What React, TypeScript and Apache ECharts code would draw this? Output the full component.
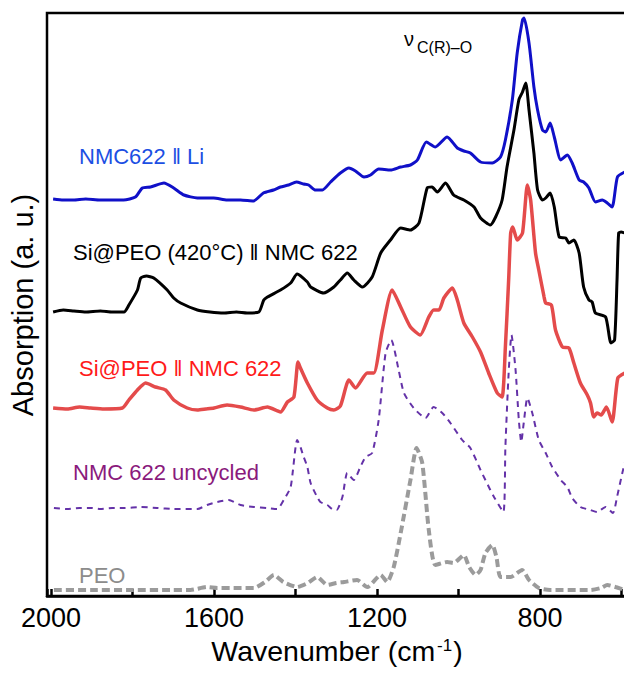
import React, { useEffect, useRef } from 'react';
import * as echarts from 'echarts';

// Tick labels on the wavenumber axis (cm^-1)
const xLabelValues = [800, 1200, 1600, 2000];

// [wavenumber (cm^-1), absorption (a.u., stacked offset)]
const nmcLi: [number, number][] = [
  [1995, 397], [1970, 396], [1945, 396], [1915, 397], [1880, 396], [1850, 396], [1822, 396], [1793, 399],
  [1776, 408], [1756, 409], [1723, 413], [1699, 408], [1674, 401], [1641, 398], [1601, 398], [1568, 396],
  [1535, 396], [1503, 395], [1479, 403], [1454, 406], [1437, 409], [1417, 411], [1398, 414], [1380, 412],
  [1368, 411], [1351, 406], [1334, 406], [1314, 414], [1290, 423], [1269, 428], [1253, 425], [1232, 419],
  [1216, 421], [1196, 427], [1167, 426], [1142, 429], [1118, 431], [1101, 436], [1079, 454], [1057, 449],
  [1028, 459], [1003, 448], [987, 445], [971, 443], [946, 434], [917, 433], [897, 439], [885, 456],
  [868, 496], [856, 543], [843, 576], [839, 578], [827, 553], [815, 509], [806, 486], [794, 466],
  [786, 464], [775, 473], [765, 459], [749, 436], [733, 441], [721, 433], [704, 416], [693, 414],
  [680, 408], [664, 394], [647, 396], [635, 393], [623, 389], [610, 419], [592, 424],
];

const siPeo420: [number, number][] = [
  [1995, 284], [1970, 286], [1944, 285], [1915, 284], [1879, 285], [1850, 284], [1821, 284], [1809, 291],
  [1788, 306], [1780, 318], [1766, 320], [1748, 318], [1715, 306], [1699, 298], [1682, 293], [1641, 286],
  [1610, 284], [1576, 283], [1545, 284], [1519, 283], [1490, 284], [1478, 296], [1469, 299], [1437, 306],
  [1412, 313], [1396, 322], [1371, 314], [1363, 309], [1331, 303], [1306, 309], [1290, 316], [1273, 323],
  [1257, 316], [1236, 309], [1212, 319], [1191, 343], [1167, 356], [1142, 368], [1118, 366], [1097, 373],
  [1077, 408], [1065, 409], [1052, 404], [1032, 413], [1012, 401], [987, 396], [962, 389], [946, 378],
  [922, 371], [909, 379], [893, 396], [881, 429], [864, 466], [852, 496], [843, 504], [835, 513],
  [827, 486], [815, 443], [806, 406], [794, 396], [786, 398], [775, 403], [765, 389], [753, 359],
  [737, 358], [729, 353], [717, 356], [704, 343], [693, 309], [680, 296], [672, 294], [664, 283],
  [639, 279], [626, 253], [617, 256], [611, 316], [607, 363], [601, 364], [592, 363],
];

const siPeo: [number, number][] = [
  [1995, 188], [1960, 187], [1930, 189], [1903, 188], [1870, 187], [1825, 188], [1809, 196], [1788, 206],
  [1768, 213], [1744, 209], [1719, 206], [1699, 196], [1666, 188], [1641, 186], [1620, 187], [1600, 188],
  [1568, 191], [1535, 189], [1502, 186], [1469, 189], [1437, 184], [1420, 194], [1404, 199], [1394, 234],
  [1388, 228], [1371, 213], [1347, 196], [1322, 188], [1306, 186], [1290, 190], [1269, 216], [1253, 208],
  [1224, 223], [1208, 223], [1187, 266], [1163, 306], [1142, 289], [1118, 269], [1094, 261], [1073, 279],
  [1061, 286], [1048, 286], [1036, 298], [1015, 308], [1003, 296], [987, 273], [966, 259], [946, 244],
  [926, 223], [905, 203], [893, 199], [885, 249], [877, 316], [872, 363], [867, 369], [856, 356],
  [843, 363], [831, 411], [823, 396], [811, 343], [803, 326], [790, 299], [786, 293], [772, 291],
  [762, 266], [745, 249], [729, 248], [717, 233], [701, 213], [684, 201], [676, 193], [668, 179],
  [660, 183], [650, 181], [637, 189], [623, 174], [609, 218], [592, 223],
];

const nmcUncycled: [number, number][] = [
  [1993, 88], [1960, 87], [1930, 88], [1900, 88], [1879, 87], [1850, 88], [1820, 88], [1780, 89],
  [1740, 88], [1699, 87], [1641, 87], [1617, 91], [1592, 94], [1564, 96], [1535, 91], [1502, 89],
  [1470, 88], [1445, 87], [1429, 96], [1412, 109], [1396, 156], [1388, 149], [1380, 139], [1371, 129],
  [1363, 113], [1347, 99], [1339, 94], [1322, 91], [1306, 86], [1299, 86], [1285, 99], [1273, 123],
  [1257, 116], [1241, 129], [1228, 139], [1212, 143], [1196, 176], [1179, 243], [1165, 256], [1147, 226],
  [1134, 203], [1110, 188], [1081, 178], [1061, 189], [1040, 183], [1020, 173], [991, 156], [971, 148],
  [946, 126], [922, 106], [913, 99], [890, 84], [885, 149], [877, 223], [870, 261], [860, 226],
  [852, 176], [846, 154], [840, 173], [831, 198], [819, 183], [803, 156], [786, 143], [770, 129],
  [749, 116], [733, 109], [721, 98], [701, 89], [676, 86], [660, 84], [639, 89], [621, 83],
  [611, 99], [598, 123], [592, 133],
];

const peo: [number, number][] = [
  [1993, 6], [1900, 6], [1800, 6], [1700, 6], [1658, 6], [1617, 9], [1592, 8], [1540, 8],
  [1502, 8], [1475, 14], [1453, 21], [1430, 14], [1396, 9], [1370, 13], [1347, 19], [1322, 11],
  [1300, 13], [1281, 14], [1249, 16], [1224, 9], [1191, 21], [1175, 14], [1159, 29], [1142, 63],
  [1118, 116], [1103, 148], [1089, 133], [1073, 66], [1057, 31], [1028, 34], [1012, 33], [987, 41],
  [974, 29], [958, 21], [946, 26], [934, 43], [917, 51], [907, 39], [897, 19], [872, 19],
  [844, 26], [827, 16], [803, 8], [775, 6], [700, 6], [676, 6], [650, 8], [635, 11],
  [615, 9], [592, 6],
];

const FONT = '"Liberation Sans", Arial, Helvetica, sans-serif';

export default function App() {
  const ref = useRef<HTMLDivElement>(null);

  useEffect(() => {
    if (!ref.current) return;
    const chart = echarts.init(ref.current, null, { renderer: 'svg' });

    const label = (text: string, x: number, y: number, fill: string) => ({
      type: 'text',
      x,
      y,
      z: 10,
      style: {
        text,
        fill,
        fontSize: 22,
        fontFamily: FONT,
        align: 'left',
        verticalAlign: 'middle',
        textAlign: 'left',
        textVerticalAlign: 'middle',
      },
    });

    chart.setOption({
      animation: false,
      backgroundColor: '#ffffff',
      grid: {
        left: 47,
        right: 17,
        top: 13,
        bottom: 78,
        show: true,
        borderColor: '#000',
        borderWidth: 2.5,
        backgroundColor: 'transparent',
      },
      xAxis: {
        type: 'value',
        inverse: true,
        min: 400,
        max: 2010,
        interval: 200,
        axisLine: { show: true, lineStyle: { color: '#000', width: 2.5 } },
        axisTick: { show: true, inside: true, length: 7, lineStyle: { color: '#000', width: 2.5 } },
        axisLabel: {
          color: '#000',
          fontSize: 27,
          fontFamily: FONT,
          margin: 8,
          formatter: (v: number) => (xLabelValues.includes(v) ? String(v) : ''),
        },
        splitLine: { show: false },
      },
      yAxis: {
        type: 'value',
        min: 0,
        max: 583,
        show: false,
      },
      graphic: [
        label('NMC622 ‖ Li', 79, 156, '#1c4fe3'),
        label('Si@PEO (420°C) ‖ NMC 622', 73, 252, '#000000'),
        label('Si@PEO ‖ NMC 622', 79, 368, '#ff1a1a'),
        label('NMC 622 uncycled', 73, 472, '#8a1a7c'),
        label('PEO', 79, 575, '#8c8c8c'),
        {
          type: 'text',
          x: 404,
          y: 39,
          style: { text: 'ν', fill: '#000', fontSize: 20, fontFamily: FONT, align: 'left', verticalAlign: 'middle' },
        },
        {
          type: 'text',
          x: 417,
          y: 47,
          style: { text: 'C(R)–O', fill: '#000', fontSize: 16, fontFamily: FONT, align: 'left', verticalAlign: 'middle' },
        },
        {
          type: 'text',
          x: 23,
          y: 305,
          rotation: Math.PI / 2,
          style: {
            text: 'Absorption (a. u.)',
            fill: '#000',
            fontSize: 29,
            fontFamily: FONT,
            align: 'center',
            verticalAlign: 'middle',
          },
        },
        {
          type: 'text',
          x: 337,
          y: 651,
          style: {
            text: '{a|Wavenumber (cm}{s|-1}{a|)}',
            fill: '#000',
            align: 'center',
            verticalAlign: 'middle',
            rich: {
              a: { fontSize: 28.5, fontFamily: FONT, fill: '#000' },
              s: { fontSize: 17, fontFamily: FONT, fill: '#000', verticalAlign: 'top', padding: [0, 1, 0, 2] },
            },
          },
        },
      ],
      series: [
        {
          name: 'PEO',
          type: 'line',
          data: peo,
          showSymbol: false,
          smooth: 0.2,
          lineStyle: { color: '#9b9b9b', width: 4, type: [8, 4] },
        },
        {
          name: 'NMC 622 uncycled',
          type: 'line',
          data: nmcUncycled,
          showSymbol: false,
          smooth: 0.2,
          lineStyle: { color: '#6432a8', width: 2, type: [6, 5] },
        },
        {
          name: 'Si@PEO || NMC 622',
          type: 'line',
          data: siPeo,
          showSymbol: false,
          smooth: 0.2,
          lineStyle: { color: '#e44b4b', width: 3.5 },
        },
        {
          name: 'Si@PEO (420°C) || NMC 622',
          type: 'line',
          data: siPeo420,
          showSymbol: false,
          smooth: 0.2,
          lineStyle: { color: '#000000', width: 3 },
        },
        {
          name: 'NMC622 || Li',
          type: 'line',
          data: nmcLi,
          showSymbol: false,
          smooth: 0.2,
          lineStyle: { color: '#1010c8', width: 3 },
        },
      ],
    });

    return () => chart.dispose();
  }, []);

  return (
    <div
      style={{
        position: 'fixed',
        left: 0,
        top: 0,
        width: 624,
        height: 674,
        overflow: 'hidden',
        background: '#fff',
      }}
    >
      <div ref={ref} style={{ width: 720, height: 674 }} />
    </div>
  );
}
